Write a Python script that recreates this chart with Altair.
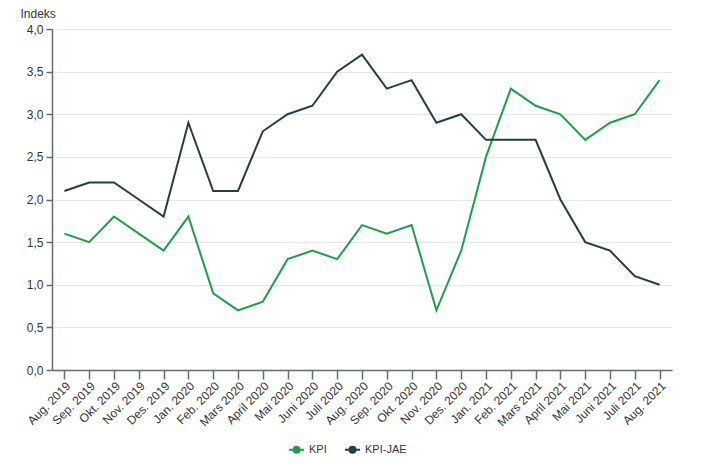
import altair as alt
import pandas as pd

months = ["Aug. 2019", "Sep. 2019", "Okt. 2019", "Nov. 2019", "Des. 2019",
          "Jan. 2020", "Feb. 2020", "Mars 2020", "April 2020", "Mai 2020",
          "Juni 2020", "Juli 2020", "Aug. 2020", "Sep. 2020", "Okt. 2020",
          "Nov. 2020", "Des. 2020", "Jan. 2021", "Feb. 2021", "Mars 2021",
          "April 2021", "Mai 2021", "Juni 2021", "Juli 2021", "Aug. 2021"]
kpi = [1.6, 1.5, 1.8, 1.6, 1.4, 1.8, 0.9, 0.7, 0.8, 1.3, 1.4, 1.3, 1.7,
       1.6, 1.7, 0.7, 1.4, 2.5, 3.3, 3.1, 3.0, 2.7, 2.9, 3.0, 3.4]
kpi_jae = [2.1, 2.2, 2.2, 2.0, 1.8, 2.9, 2.1, 2.1, 2.8, 3.0, 3.1, 3.5, 3.7,
           3.3, 3.4, 2.9, 3.0, 2.7, 2.7, 2.7, 2.0, 1.5, 1.4, 1.1, 1.0]
series = ["KPI", "KPI-JAE"]
colors = ["#1f9d4b", "#263d45"]

rows = []
for m, a, b in zip(months, kpi, kpi_jae):
    rows.append({"month": m, "series": series[0], "value": a})
    rows.append({"month": m, "series": series[1], "value": b})
df = pd.DataFrame(rows)

color = alt.Color(
    "series:N",
    scale=alt.Scale(domain=series, range=colors),
    legend=alt.Legend(
        title=None, orient="none", direction="horizontal",
        legendX=236, legendY=412,
        symbolType="M-1,0L1,0M-0.4,0A0.4,0.4 0 1,1 0.4,0A0.4,0.4 0 1,1 -0.4,0Z",
        symbolSize=225, symbolStrokeWidth=2, symbolOpacity=1,
        labelFont="Liberation Sans", labelFontSize=11, labelColor="#333333",
        columnPadding=14, labelOffset=4,
    ),
)

x = alt.X(
    "month:N", sort=months, title=None,
    scale=alt.Scale(type="point", padding=0.5),
    axis=alt.Axis(labelAngle=-45, labelAlign="right", labelBaseline="top",
                  labelFont="Liberation Sans", labelFontSize=12, labelColor="#333333",
                  domainColor="#5f6e6e", domainWidth=1.5, tickColor="#5f6e6e",
                  tickSize=9, tickWidth=1.5, labelPadding=1, grid=False),
)
y = alt.Y(
    "value:Q",
    scale=alt.Scale(domain=[0, 4], nice=False),
    axis=alt.Axis(values=[0, 0.5, 1, 1.5, 2, 2.5, 3, 3.5, 4],
                  labelExpr="replace(format(datum.value, '.1f'), '.', ',')",
                  title="Indeks", titleAngle=0, titleAlign="left", titleBaseline="alphabetic",
                  titleX=-32, titleY=-12, titleFont="Liberation Sans", titleFontSize=12,
                  titleFontWeight="normal", titleColor="#333333",
                  labelFont="Liberation Sans", labelFontSize=12, labelColor="#333333",
                  domainColor="#5f6e6e", domainWidth=1.5, tickColor="#5f6e6e",
                  tickSize=6, tickWidth=1.5, labelPadding=3,
                  grid=True, gridColor="#e8e8e8", gridWidth=1),
)

base = alt.Chart(df).encode(x=x, y=y, color=color)
lines = base.mark_line(strokeWidth=2)
pts = base.mark_point(filled=True, opacity=1).encode(size=alt.value(0))

chart = (lines + pts).properties(
    width=620, height=341,
    autosize=alt.AutoSizeParams(type="none"),
    padding={"left": 44, "top": 21, "right": 24, "bottom": 88},
).configure_view(stroke=None)

chart.save("out.html", embed_options={"renderer": "svg", "actions": False})
